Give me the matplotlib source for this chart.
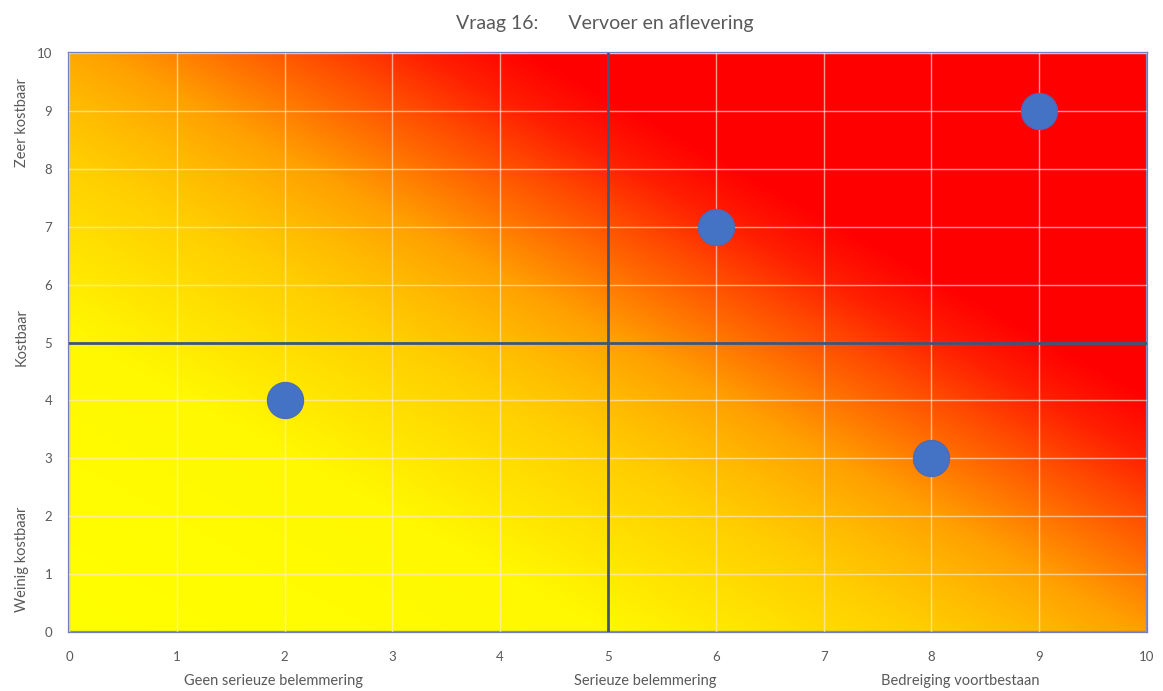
import numpy as np
import matplotlib
matplotlib.use("Agg")
import matplotlib.pyplot as plt
from matplotlib.colors import LinearSegmentedColormap
import matplotlib.transforms as mtransforms

plt.rcParams['font.family'] = ['Lato', 'DejaVu Sans']

title = "Vraag 16:      Vervoer en aflevering"
x_vals = [2, 6, 8, 9]
y_vals = [4, 7, 3, 9]
x_ticks = list(range(0, 11))
y_ticks = list(range(0, 11))
x_cat_labels = ["Geen serieuze belemmering", "Serieuze belemmering", "Bedreiging voortbestaan"]
x_cat_pos = [1.9, 5.35, 8.27]
y_cat_labels = ["Weinig kostbaar", "Kostbaar", "Zeer kostbaar"]
y_cat_pos = [1.25, 5.1, 8.8]

fig = plt.figure(figsize=(11.63, 6.91), dpi=100)
ax = fig.add_axes([69/1163, 1-632/691, (1147-69)/1163, (632-53)/691])

# gradient background (yellow -> red along x + y)
T = 15.0
stops = [(0.0, (1, 1, 0)), (5/T, (1, 248/255, 0)), (8/T, (1, 205/255, 0)),
         (9/T, (1, 185/255, 0)), (10/T, (1, 160/255, 0)), (12/T, (1, 75/255, 0)),
         (13/T, (1, 30/255, 0)), (14/T, (1, 0, 0)), (1.0, (1, 0, 0))]
cmap = LinearSegmentedColormap.from_list("yr", stops)
gx, gy = np.meshgrid(np.linspace(0, 10, 400), np.linspace(0, 10, 400))
t = gx + 0.97 * gy
ax.imshow(t, extent=[0, 10, 0, 10], origin='lower', cmap=cmap, vmin=0, vmax=T,
          aspect='auto', interpolation='bilinear', zorder=0)

ax.set_xlim(0, 10)
ax.set_ylim(0, 10)
ax.set_xticks(x_ticks)
ax.set_yticks(y_ticks)
ax.set_axisbelow(False)
ax.grid(True, color=(1, 0.92, 0.85), alpha=0.65, linewidth=1.0)
ax.tick_params(length=0, labelsize=9.5, labelcolor='#595959', pad=14)
ax.tick_params(axis='y', pad=12)

for s in ax.spines.values():
    s.set_color('#6F7FBF')
    s.set_linewidth(1.6)

ax.axvline(5, color='#3E5579', linewidth=2.0, zorder=2.7)
ax.axhline(5, color='#3E5579', linewidth=2.0, zorder=2.7)

ax.scatter(x_vals, y_vals, s=680, color='#4472C4', edgecolors='#4A6BB5',
           linewidths=0.8, zorder=3)

fig.text(605/1163, 1-24/691, title, ha='center', va='center', fontsize=14,
         color='#595959')

trans_x = mtransforms.blended_transform_factory(ax.transData, fig.transFigure)
for lab, pos in zip(x_cat_labels, x_cat_pos):
    ax.text(pos, 1-681/691, lab, transform=trans_x, ha='center', va='center',
            fontsize=10.5, color='#595959')

trans_y = mtransforms.blended_transform_factory(fig.transFigure, ax.transData)
for lab, pos in zip(y_cat_labels, y_cat_pos):
    ax.text(22/1163, pos, lab, transform=trans_y, ha='center', va='center',
            rotation=90, fontsize=10.5, color='#595959')

fig.savefig("out.png", dpi=100)
